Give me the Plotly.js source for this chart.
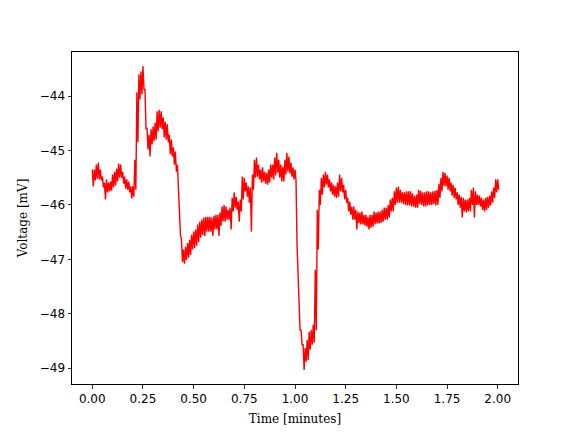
<!DOCTYPE html>
<html>
<head>
<meta charset="utf-8">
<script src="https://cdn.plot.ly/plotly-3.0.1.min.js"></script>
<style>html,body{margin:0;padding:0;background:#fff;}#chart{width:576px;height:432px;}</style>
</head>
<body>
<div id="chart"></div>
<script>
// Sampling grid (minutes): one column every 0.01 min, upper and lower edge of the noisy trace
const sampleStep = 0.01;
// Upper edge of trace per column (mV)
const voltHigh = [
-45.35,-45.35,-45.26,-45.22,-45.35,-45.48,-45.59,-45.53,-45.59,-45.57,
-45.44,-45.39,-45.33,-45.24,-45.26,-45.39,-45.48,-45.53,-45.57,-45.66,
-45.66,-45.17,-43.93,-43.60,-43.55,-43.45,-43.88,-44.58,-44.71,-44.61,
-44.56,-44.49,-44.28,-44.25,-44.28,-44.39,-44.47,-44.52,-44.71,-44.80,
-44.94,-45.02,-45.26,-45.91,-46.64,-46.82,-46.77,-46.70,-46.64,-46.55,
-46.49,-46.45,-46.36,-46.31,-46.27,-46.23,-46.22,-46.22,-46.22,-46.23,
-46.20,-46.18,-46.18,-46.14,-46.03,-46.00,-46.03,-46.09,-46.05,-45.87,
-45.77,-45.85,-45.94,-45.90,-45.48,-45.50,-45.59,-45.66,-45.68,-45.44,
-45.17,-45.13,-45.26,-45.35,-45.31,-45.39,-45.41,-45.35,-45.26,-45.26,
-45.13,-45.04,-45.17,-45.26,-45.30,-45.17,-45.04,-45.11,-45.22,-45.31,
-45.35,-46.73,-47.75,-48.30,-48.57,-48.63,-48.48,-48.33,-48.30,-48.20,
-47.19,-46.09,-45.72,-45.50,-45.44,-45.39,-45.44,-45.53,-45.59,-45.63,
-45.66,-45.59,-45.44,-45.50,-45.63,-45.72,-45.87,-45.94,-46.03,-46.03,
-46.09,-46.12,-46.14,-46.12,-46.18,-46.18,-46.22,-46.18,-46.18,-46.12,
-46.14,-46.12,-46.12,-46.09,-46.05,-46.05,-46.00,-45.90,-45.87,-45.75,
-45.68,-45.66,-45.72,-45.77,-45.77,-45.75,-45.75,-45.75,-45.79,-45.83,
-45.81,-45.72,-45.74,-45.77,-45.77,-45.75,-45.75,-45.77,-45.75,-45.74,
-45.72,-45.61,-45.50,-45.39,-45.41,-45.46,-45.50,-45.59,-45.63,-45.68,
-45.77,-45.81,-45.85,-45.87,-45.90,-45.90,-45.87,-45.72,-45.68,-45.75,
-45.81,-45.83,-45.87,-45.90,-45.87,-45.85,-45.83,-45.75,-45.68,-45.53,
-45.53
];
// Lower edge of trace per column (mV)
const voltLow = [
-45.66,-45.55,-45.52,-45.53,-45.55,-45.68,-45.90,-45.77,-45.75,-45.74,
-45.68,-45.64,-45.57,-45.50,-45.50,-45.61,-45.70,-45.72,-45.77,-45.88,
-45.85,-45.72,-44.85,-44.06,-43.97,-43.88,-44.61,-44.98,-45.11,-44.89,
-44.83,-44.80,-44.65,-44.58,-44.61,-44.76,-44.80,-44.85,-45.07,-45.11,
-45.26,-45.39,-45.72,-46.55,-47.05,-47.08,-47.01,-46.97,-46.92,-46.82,
-46.79,-46.75,-46.68,-46.60,-46.55,-46.57,-46.49,-46.49,-46.49,-46.57,
-46.45,-46.45,-46.57,-46.38,-46.31,-46.31,-46.27,-46.27,-46.45,-46.12,
-46.05,-46.09,-46.31,-46.12,-45.90,-45.75,-45.85,-45.96,-46.49,-45.72,
-45.50,-45.48,-45.53,-45.59,-45.57,-45.61,-45.63,-45.59,-45.50,-45.53,
-45.46,-45.41,-45.50,-45.57,-45.57,-45.44,-45.39,-45.42,-45.48,-45.53,
-45.55,-47.38,-48.30,-48.57,-49.03,-48.88,-48.85,-48.66,-48.57,-48.53,
-48.30,-46.82,-46.00,-45.81,-45.68,-45.63,-45.68,-45.75,-45.81,-45.85,
-45.87,-45.85,-45.75,-45.77,-45.90,-45.96,-46.12,-46.18,-46.27,-46.27,
-46.45,-46.33,-46.36,-46.36,-46.38,-46.40,-46.45,-46.42,-46.40,-46.36,
-46.34,-46.34,-46.33,-46.31,-46.27,-46.27,-46.23,-46.12,-46.12,-46.00,
-45.96,-45.96,-45.96,-45.98,-46.00,-46.01,-46.01,-46.03,-46.03,-46.05,
-46.05,-45.98,-46.00,-46.03,-46.03,-46.01,-46.00,-46.00,-45.98,-46.01,
-46.00,-45.87,-45.75,-45.65,-45.66,-45.72,-45.75,-45.83,-45.87,-45.90,
-46.00,-46.05,-46.23,-46.12,-46.14,-46.12,-46.12,-46.00,-46.23,-46.00,
-46.00,-46.03,-46.09,-46.12,-46.09,-46.05,-46.01,-45.96,-45.87,-45.77,
-45.72
];
const xTickValues = [0, 0.25, 0.5, 0.75, 1.0, 1.25, 1.5, 1.75, 2.0];
const xTickLabels = ["0.00","0.25","0.50","0.75","1.00","1.25","1.50","1.75","2.00"];
const yTickValues = [-49, -48, -47, -46, -45, -44];

const times = [], volts = [];
for (let k = 0; k < voltHigh.length; k++) {
  times.push(k * sampleStep); volts.push(voltHigh[k]);
  times.push(k * sampleStep + sampleStep / 2); volts.push(voltLow[k]);
}

const tickFont = {family: "DejaVu Sans", size: 12, color: "#000"};
const titleFont = {family: "DejaVu Serif", size: 12, color: "#000"};

Plotly.newPlot("chart", [{
  x: times, y: volts, type: "scatter", mode: "lines",
  line: {color: "#ff0000", width: 1.4}, hoverinfo: "skip"
}], {
  width: 576, height: 432,
  margin: {l: 72, r: 58, t: 52, b: 48},
  paper_bgcolor: "#fff", plot_bgcolor: "#fff",
  showlegend: false,
  xaxis: {
    range: [-0.1, 2.1], tickvals: xTickValues, ticktext: xTickLabels,
    showgrid: false, zeroline: false, showline: true, mirror: true,
    linecolor: "#000", linewidth: 1, ticks: "outside", ticklen: 3.5, tickwidth: 0.8, tickcolor: "#000",
    tickfont: tickFont,
    title: {text: "Time [minutes]", font: titleFont, standoff: 9}
  },
  yaxis: {
    range: [-49.29, -43.19], tickvals: yTickValues,
    showgrid: false, zeroline: false, showline: true, mirror: true,
    linecolor: "#000", linewidth: 1, ticks: "outside", ticklen: 3.5, tickwidth: 0.8, tickcolor: "#000",
    tickfont: tickFont,
    title: {text: "Voltage [mV]", font: titleFont, standoff: 9}
  }
}, {displayModeBar: false, staticPlot: true});
</script>
</body>
</html>
